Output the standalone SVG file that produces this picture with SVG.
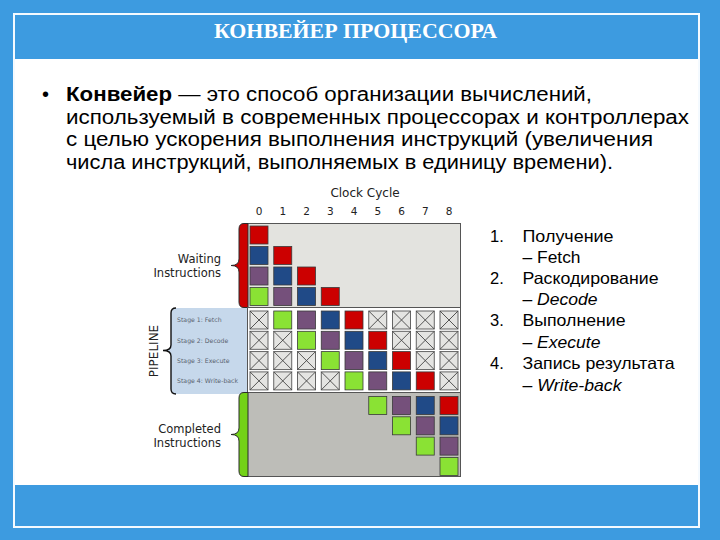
<svg xmlns="http://www.w3.org/2000/svg" width="720" height="540" viewBox="0 0 720 540">
<style>
.title{font-family:"Liberation Serif","Times New Roman",serif;font-weight:bold;font-size:20px;fill:#fff}
.body{font-family:"Liberation Sans",Arial,sans-serif;font-size:20px;fill:#000}
.list{font-family:"Liberation Sans",Arial,sans-serif;font-size:16.5px;fill:#000}
.dj{font-family:"DejaVu Sans",Verdana,sans-serif;fill:#222}
.lbl{font-size:11.5px}
.cc{font-size:12px}
.dig{font-size:10.5px}
.stage{font-family:"DejaVu Sans",Verdana,sans-serif;font-size:6.2px;fill:#5a6470}
.r{fill:#cc0000;stroke:#3a3a3a;stroke-width:0.8}
.b{fill:#204a87;stroke:#3a3a3a;stroke-width:0.8}
.p{fill:#75507b;stroke:#3a3a3a;stroke-width:0.8}
.g{fill:#8ae234;stroke:#3a3a3a;stroke-width:0.8}
.sec{stroke:#555;stroke-width:1}
</style>
<defs>
<g id="x">
<rect x="0" y="0" width="18" height="18" fill="#e4e4e2" stroke="#555" stroke-width="0.9"/>
<path d="M0,0 L18,18 M18,0 L0,18" stroke="#444" stroke-width="0.9" fill="none"/>
</g>
<rect id="R" class="r" width="18" height="18"/>
<rect id="B" class="b" width="18" height="18"/>
<rect id="P" class="p" width="18" height="18"/>
<rect id="G" class="g" width="18" height="18"/>
</defs>

<g id="frame">
<rect x="0" y="0" width="720" height="540" fill="#3d9be0"/>
<rect x="14" y="14" width="685" height="513" fill="#fff" stroke="#f4faff" stroke-width="2"/>
<rect x="15" y="15" width="683" height="44" fill="#3d9be0"/>
<rect x="15" y="485" width="683" height="41" fill="#3d9be0"/>
</g>

<g id="title">
<text class="title" x="355.5" y="38" text-anchor="middle" textLength="283" lengthAdjust="spacingAndGlyphs">КОНВЕЙЕР ПРОЦЕССОРА</text>
</g>

<g id="bullet">
<text class="body" x="42" y="101">•</text>
<text class="body" x="66" y="101" textLength="526" lengthAdjust="spacingAndGlyphs"><tspan font-weight="bold">Конвейер</tspan> — это способ организации вычислений,</text>
<text class="body" x="66" y="123.7" textLength="623" lengthAdjust="spacingAndGlyphs">используемый в современных процессорах и контроллерах</text>
<text class="body" x="66" y="146.4" textLength="587" lengthAdjust="spacingAndGlyphs">с целью ускорения выполнения инструкций (увеличения</text>
<text class="body" x="66" y="169" textLength="547" lengthAdjust="spacingAndGlyphs">числа инструкций, выполняемых в единицу времени).</text>
</g>

<g id="stages-list">
<text class="list" x="490" y="242">1.</text>
<text class="list" x="522.5" y="242" textLength="91" lengthAdjust="spacingAndGlyphs">Получение</text>
<text class="list" x="522.5" y="263" textLength="58" lengthAdjust="spacingAndGlyphs">– Fetch</text>
<text class="list" x="490" y="284">2.</text>
<text class="list" x="522.5" y="284" textLength="136" lengthAdjust="spacingAndGlyphs">Раскодирование</text>
<text class="list" x="522.5" y="305" textLength="75" lengthAdjust="spacingAndGlyphs">– <tspan font-style="italic">Decode</tspan></text>
<text class="list" x="490" y="326">3.</text>
<text class="list" x="522.5" y="326" textLength="103" lengthAdjust="spacingAndGlyphs">Выполнение</text>
<text class="list" x="522.5" y="348" textLength="78" lengthAdjust="spacingAndGlyphs">– <tspan font-style="italic">Execute</tspan></text>
<text class="list" x="490" y="369">4.</text>
<text class="list" x="522.5" y="369" textLength="152" lengthAdjust="spacingAndGlyphs">Запись результата</text>
<text class="list" x="522.5" y="391" textLength="99" lengthAdjust="spacingAndGlyphs">– <tspan font-style="italic">Write-back</tspan></text>
</g>

<g id="axis">
<text class="dj cc" x="365" y="197" text-anchor="middle">Clock Cycle</text>
<g class="dj dig" text-anchor="middle">
<text x="259" y="215">0</text><text x="282.75" y="215">1</text><text x="306.5" y="215">2</text><text x="330.25" y="215">3</text><text x="354" y="215">4</text><text x="377.75" y="215">5</text><text x="401.5" y="215">6</text><text x="425.25" y="215">7</text><text x="449" y="215">8</text>
</g>
</g>

<g id="waiting">
<rect x="247.5" y="223.5" width="213" height="84" fill="#e3e3df" class="sec"/>
<path d="M248,223.5 H244 Q239,223.5 239,229 V259 Q239,265.5 231,265.5 Q239,265.5 239,272 V302 Q239,307.5 244,307.5 H248 Z" fill="#cc0000" stroke="#2a2a2a" stroke-width="1"/>
<text class="dj lbl" x="221" y="263" text-anchor="end">Waiting</text>
<text class="dj lbl" x="221" y="277" text-anchor="end">Instructions</text>
<use href="#R" x="250" y="226"/>
<use href="#B" x="250" y="246.5"/><use href="#R" x="273.75" y="246.5"/>
<use href="#P" x="250" y="267"/><use href="#B" x="273.75" y="267"/><use href="#R" x="297.5" y="267"/>
<use href="#G" x="250" y="287.5"/><use href="#P" x="273.75" y="287.5"/><use href="#B" x="297.5" y="287.5"/><use href="#R" x="321.25" y="287.5"/>
</g>

<g id="pipeline">
<path d="M248,308 H176 Q171,308 171,313 V345 Q171,350.5 163,350.5 Q171,350.5 171,356 V389 Q171,394 176,394 H248 Z" fill="#c6d8eb"/>
<path d="M176,308 Q171,308 171,313 V345 Q171,350.5 163,350.5 Q171,350.5 171,356 V389 Q171,394 176,394" fill="none" stroke="#111" stroke-width="1.4"/>
<text class="dj cc" transform="translate(157.5,351) rotate(-90)" text-anchor="middle">PIPELINE</text>
<text class="stage" x="177" y="322">Stage 1: Fetch</text>
<text class="stage" x="177" y="342.5">Stage 2: Decode</text>
<text class="stage" x="177" y="362.8">Stage 3: Execute</text>
<text class="stage" x="177" y="383">Stage 4: Write-back</text>
<rect x="247.5" y="307.5" width="213" height="85" fill="#fff" class="sec"/>
<use href="#x" x="250" y="311"/><use href="#G" x="273.75" y="311"/><use href="#P" x="297.5" y="311"/><use href="#B" x="321.25" y="311"/><use href="#R" x="345" y="311"/><use href="#x" x="368.75" y="311"/><use href="#x" x="392.5" y="311"/><use href="#x" x="416.25" y="311"/><use href="#x" x="440" y="311"/>
<use href="#x" x="250" y="331.3"/><use href="#x" x="273.75" y="331.3"/><use href="#G" x="297.5" y="331.3"/><use href="#P" x="321.25" y="331.3"/><use href="#B" x="345" y="331.3"/><use href="#R" x="368.75" y="331.3"/><use href="#x" x="392.5" y="331.3"/><use href="#x" x="416.25" y="331.3"/><use href="#x" x="440" y="331.3"/>
<use href="#x" x="250" y="351.6"/><use href="#x" x="273.75" y="351.6"/><use href="#x" x="297.5" y="351.6"/><use href="#G" x="321.25" y="351.6"/><use href="#P" x="345" y="351.6"/><use href="#B" x="368.75" y="351.6"/><use href="#R" x="392.5" y="351.6"/><use href="#x" x="416.25" y="351.6"/><use href="#x" x="440" y="351.6"/>
<use href="#x" x="250" y="371.9"/><use href="#x" x="273.75" y="371.9"/><use href="#x" x="297.5" y="371.9"/><use href="#x" x="321.25" y="371.9"/><use href="#G" x="345" y="371.9"/><use href="#P" x="368.75" y="371.9"/><use href="#B" x="392.5" y="371.9"/><use href="#R" x="416.25" y="371.9"/><use href="#x" x="440" y="371.9"/>
</g>

<g id="completed">
<rect x="247.5" y="392.5" width="213" height="84" fill="#bdbdb8" class="sec"/>
<path d="M248,392.5 H244 Q239,392.5 239,398 V428 Q239,434.5 231,434.5 Q239,434.5 239,441 V471 Q239,476.5 244,476.5 H248 Z" fill="#73d216" stroke="#2a2a2a" stroke-width="1"/>
<text class="dj lbl" x="221" y="433" text-anchor="end">Completed</text>
<text class="dj lbl" x="221" y="447" text-anchor="end">Instructions</text>
<use href="#G" x="368.75" y="396.5"/><use href="#P" x="392.5" y="396.5"/><use href="#B" x="416.25" y="396.5"/><use href="#R" x="440" y="396.5"/>
<use href="#G" x="392.5" y="416.8"/><use href="#P" x="416.25" y="416.8"/><use href="#B" x="440" y="416.8"/>
<use href="#G" x="416.25" y="437.1"/><use href="#P" x="440" y="437.1"/>
<use href="#G" x="440" y="457.4"/>
</g>
</svg>
